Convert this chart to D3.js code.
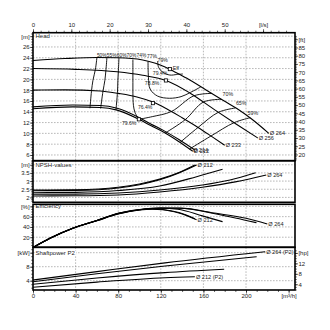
<!DOCTYPE html>
<html><head><meta charset="utf-8">
<script src="https://cdn.jsdelivr.net/npm/d3@7"></script>
<style>body{margin:0;background:#fff}svg text{font-family:"Liberation Sans",Arial,sans-serif;fill:#222}</style>
</head><body><svg id="c" width="330" height="330"></svg>
<script>
// ---------- data ----------
const flowTicks = [0, 40, 80, 120, 160, 200];
const lsTicks = [0, 10, 20, 30, 40, 50];
const headTicks = [6, 8, 10, 12, 14, 16, 18, 20, 22, 24, 26];
const ftTicks = [20, 25, 30, 35, 40, 45, 50, 55, 60, 65, 70, 75, 80, 85];
const npshTicks = [2, 2.5, 3, 3.5];
const effTicks = [20, 40, 60];
const kwTicks = [4, 8];
const hpTicks = [4, 8, 12];

const diameters = ["212", "214", "233", "256", "264"];

// Head curves [Q m3/h, H m]
const head212 = [[0,14.55],[37.5,14.9],[63,14.8],[79,14.3],[99.4,12.6],[111,11.4],[122,10.3],[136,8.6],[150,6.7]];
const head214 = [[0,14.9],[37.5,15.25],[63,15.15],[79,14.65],[99.4,12.95],[111,11.7],[122,10.6],[137,8.85],[152,6.9]];
const head233 = [[0,18.0],[30,18.05],[63,17.85],[80,17.4],[97.6,16.75],[112.6,15.8],[125,14.6],[140,12.9],[155,11.1],[168,9.4],[180,7.8]];
const head256 = [[0,22.0],[40,21.85],[79,21.4],[103,20.75],[125,19.8],[148,17.4],[171,14.3],[191,11.7],[211,9.15]];
const head264 = [[0,23.5],[30,23.85],[60,24.05],[80,24.0],[103,23.6],[115,23.0],[124,22.3],[132,21.5],[144.5,20.2],[164,17.85],[180,15.95],[191.4,14.6],[205,12.7],[221.4,10.0]];

// Best efficiency points [Q, H]
const bepQ = [99.4, 112.6, 124.8, 128.5];
const bepH = [12.6, 15.6, 19.8, 21.9];

// iso-efficiency lines [Q, H]
const iso50 = [[60.0,24.0],[58.6,21.87],[56.3,19.83],[54.9,17.8],[53.5,14.65]];
const iso55 = [[69.4,24.0],[68.5,21.78],[67.5,19.83],[65.7,17.8],[63.5,14.6]];
const iso60 = [[80.7,23.96],[80.2,21.7],[79.7,19.83],[79.3,17.6],[77.9,14.37]];
const iso74 = [[93.8,23.67],[93.8,21.5],[93.8,19.46],[93.8,17.43],[94.3,15.2],[95.7,13.9],[99.4,12.6]];
const iso74R = [[99.4,12.6],[112,13.1],[130,14.05],[151,16.95],[168,17.4]];
const iso77 = [[108,23.3],[108.4,20.4],[110,18.2],[117,16.9],[128,16.5],[139,16.8],[148,17.6],[157.5,18.6]];
const iso79 = [[117,23.4],[118,22.2],[122,21.3],[128.5,20.8],[135,20.9],[140.7,21.0]];
const iso70R = [[124,10.05],[143,12.55],[160,15.8],[177,16.3]];
const iso65R = [[138,8.3],[155,11.1],[174,13.9],[190,14.7]];
const iso59R = [[147,7.1],[167,9.5],[189,12.0],[204,12.9]];

const isoTopLabels = ["50%", "55%", "60%", "70%", "74%", "77%"];
const isoTopQ = [60, 69.3, 78.6, 87.9, 97.2, 107];
const isoRightLabels = ["70%", "65%", "59%"];
const isoRightQ = [178, 190.5, 201.5];
const isoRightH = [16.9, 15.2, 13.4];
const bepLabels = ["79%", "Eff", "79.4%", "78.8%", "76.4%", "79.6%"];
const bepLabelQ = [117, 131.3, 112.5, 105, 98.5, 83.5];
const bepLabelH = [23.3, 21.7, 20.75, 18.95, 14.55, 11.55];

// NPSH [Q, m]
const npsh212 = [[0,2.41],[40,2.43],[80,2.58],[100,2.78],[119,3.08],[137,3.5],[153.6,3.99]];
const npsh214 = [[0,2.45],[40,2.47],[80,2.62],[100,2.82],[119,3.12],[137,3.53],[152,3.99]];
const npsh233 = [[0,2.29],[40,2.31],[80,2.42],[119,2.70],[153.6,3.27],[178,3.72]];
const npsh256 = [[0,2.19],[40,2.2],[80,2.27],[119,2.45],[159,2.76],[185,3.07],[209,3.51]];
const npsh264 = [[0,2.09],[40,2.1],[80,2.15],[119,2.33],[159,2.62],[190,2.95],[219,3.37]];

// Efficiency [Q, %]
const eff212 = [[0,0],[16,18],[37.5,37.5],[60,52],[80,65],[100,73],[112,74.5],[122,73.5],[137,67],[153.6,54]];
const eff214 = [[0,0],[16,18.5],[37.5,38],[60,52.5],[80,65.5],[100,73.5],[112,75],[122,74],[137,68],[152,56]];
const eff233 = [[0,0],[16,18],[37.5,37.5],[60,52.5],[80,66],[100,73.5],[120,76.2],[136,74.3],[159,61.5],[178,50.2]];
const eff256 = [[0,0],[16,18],[37.5,37.5],[60,52.5],[80,66.5],[100,73.5],[120,76.5],[138,76.3],[172,65.2],[190,57.5],[209.8,48.2]];
const eff264 = [[0,0],[16,18],[37.5,37.5],[60,52.5],[80,66.5],[100,73.8],[120,76.7],[138,76.5],[172,66.5],[200,56.8],[220,45.7]];

// Shaft power [Q, kW]
const pow212 = [[0,2.11],[60,3.6],[124,4.86],[152,5.14]];
const pow233 = [[0,2.97],[60,4.75],[124,6.3],[179.5,7.26]];
const pow256 = [[0,3.71],[60,6.0],[124,8.2],[210,10.86]];
const pow264 = [[0,4.2],[60,6.6],[124,9.1],[218,12.3]];

// ---------- scales ----------
const L = 33, R = 295;
const x = d3.scaleLinear().domain([0, 246]).range([L, R]);
const xLs = d3.scaleLinear().domain([0, 246 / 3.6]).range([L, R]);
const yH = d3.scaleLinear().domain([4.94, 28.64]).range([160.7, 32.7]);
const yFt = d3.scaleLinear().domain([4.94 * 3.28084, 28.64 * 3.28084]).range([160.7, 32.7]);
const yN = d3.scaleLinear().domain([1.7, 4.25]).range([202.3, 160.7]);
const yE = d3.scaleLinear().domain([0, 84]).range([247.5, 204.3]);
const yP = d3.scaleLinear().domain([1.34, 13.63]).range([290, 247]);
const yHp = d3.scaleLinear().domain([1.34 / 0.7457, 13.63 / 0.7457]).range([290, 247]);

const svg = d3.select("#c");
const panels = [[32.7, 160.7], [160.7, 202.3], [204.3, 247.3], [247.3, 290]];

// ---------- grid ----------
const grid = svg.append("g").attr("stroke", "#8a8a8a").attr("stroke-width", 0.6).attr("stroke-dasharray", "1.6,1.4");
function hgrid(scale, vals) {
  grid.selectAll(null).data(vals).join("line")
    .attr("x1", L).attr("x2", R).attr("y1", d => scale(d)).attr("y2", d => scale(d));
}
hgrid(yH, headTicks.concat([28]));
hgrid(yN, npshTicks.concat([4]));
hgrid(yE, effTicks.concat([80]));
hgrid(yP, kwTicks.concat([12]));
panels.forEach(p => {
  grid.selectAll(null).data(flowTicks.slice(1)).join("line")
    .attr("x1", d => x(d)).attr("x2", d => x(d)).attr("y1", p[0]).attr("y2", p[1]);
});

// ---------- axes ----------
const fs = 6;
function axisG(ax, tx, ty) {
  const a = svg.append("g").attr("transform", `translate(${tx},${ty})`).call(ax);
  a.select(".domain").remove();
  a.selectAll("line").attr("stroke", "#000").attr("stroke-width", 0.6);
  a.selectAll("text").attr("font-size", fs).style("fill", "#222");
  return a;
}
function leftAxis(scale, major, unitVal, unit, minor) {
  axisG(d3.axisLeft(scale).tickValues(minor).tickSize(1.8).tickFormat(""), L, 0);
  axisG(d3.axisLeft(scale).tickValues(major.concat([unitVal])).tickSize(3).tickPadding(0.4)
    .tickFormat(d => d === unitVal ? unit : d), L, 0);
}
function rightAxis(scale, major, unitVal, unit, minor) {
  axisG(d3.axisRight(scale).tickValues(minor).tickSize(1.8).tickFormat(""), R, 0);
  axisG(d3.axisRight(scale).tickValues(major.concat([unitVal])).tickSize(3).tickPadding(0.4)
    .tickFormat(d => d === unitVal ? unit : d), R, 0);
}
leftAxis(yH, headTicks, 28, "[m]", d3.range(5, 28.6, 0.5));
rightAxis(yFt, ftTicks, 90, "[ft]", d3.range(17, 93, 1));
leftAxis(yN, npshTicks, 4, "[m]", d3.range(1.8, 4.21, 0.1));
leftAxis(yE, effTicks, 80, "[%]", d3.range(5, 84, 5));
leftAxis(yP, kwTicks, 12, "[kW]", d3.range(2, 13.6, 1));
rightAxis(yHp, hpTicks, 16, "[hp]", d3.range(2, 18, 1));
axisG(d3.axisTop(xLs).tickValues(d3.range(0, 68, 2)).tickSize(2).tickFormat(""), 0, 32.7);
axisG(d3.axisTop(xLs).tickValues(lsTicks.concat([60])).tickSize(3.5).tickPadding(2.5)
  .tickFormat(d => d === 60 ? "[l/s]" : d), 0, 32.7);
axisG(d3.axisBottom(x).tickValues(d3.range(0, 246, 10)).tickSize(2).tickFormat(""), 0, 290);
axisG(d3.axisBottom(x).tickValues(flowTicks.concat([240])).tickSize(3.5).tickPadding(0.6)
  .tickFormat(d => d === 240 ? "[m³/h]" : d), 0, 290);

// panel titles (white backing)
const titleBg = svg.append("g");
const titleG = svg.append("g");
const titles = [["Head", yH(28)], ["NPSH-values", yN(4)], ["Efficiency", yE(80)], ["Shaftpower P2", yP(12)]];
titles.forEach(t => {
  const tx = titleG.append("text").attr("x", L + 2.5).attr("y", t[1]).attr("dy", "0.35em")
    .attr("font-size", fs).text(t[0]);
  const bb = tx.node().getBBox();
  titleBg.append("rect").attr("x", bb.x - 0.5).attr("y", bb.y + 1).attr("width", bb.width + 1)
    .attr("height", bb.height - 2).attr("fill", "#fff");
});

// ---------- curves ----------
const curves = svg.append("g").attr("fill", "none").attr("stroke", "#000");
function drawSeries(ys, data, w, curve) {
  const ln = d3.line().x(d => x(d[0])).y(d => ys(d[1])).curve(curve || d3.curveMonotoneX);
  curves.append("path").attr("d", ln(data)).attr("stroke-width", w);
}
[head212, head214, head233, head256, head264].forEach(c => drawSeries(yH, c, 1.1));
[npsh212, npsh214, npsh233, npsh256, npsh264].forEach(c => drawSeries(yN, c, 1.1));
[eff212, eff214, eff233, eff256, eff264].forEach(c => drawSeries(yE, c, 1.1));
[pow212, pow233, pow256, pow264].forEach(c => drawSeries(yP, c, 1.1));
[iso50, iso55, iso60, iso74, iso74R, iso77, iso79, iso70R, iso65R, iso59R]
  .forEach(c => drawSeries(yH, c, 0.9, d3.curveCatmullRom));

svg.selectAll(null).data(bepQ).join("rect")
  .attr("x", (d, i) => x(d) - 1.6).attr("y", (d, i) => yH(bepH[i]) - 1.6)
  .attr("width", 3.2).attr("height", 3.2).attr("fill", "#fff").attr("stroke", "#000").attr("stroke-width", 0.8);

const border = svg.append("g").attr("fill", "none").attr("stroke", "#000").attr("stroke-width", 1.6);
panels.forEach(p => border.append("rect").attr("x", L).attr("y", p[0]).attr("width", R - L).attr("height", p[1] - p[0]));

// ---------- labels ----------
const lab = svg.append("g").attr("font-size", 5.6);
function endLabel(ys, data, txt, dx, dy) {
  const e = data[data.length - 1];
  lab.append("text").attr("x", x(e[0]) + (dx || 1)).attr("y", ys(e[1]) + (dy || 0)).attr("dy", "0.35em").text(txt);
}
endLabel(yH, head264, "Ø 264"); endLabel(yH, head256, "Ø 256"); endLabel(yH, head233, "Ø 233");
endLabel(yH, head212, "Ø 212"); endLabel(yH, head214, "Ø 214", -2, 0);
endLabel(yN, npsh212, "Ø 212"); endLabel(yN, npsh264, "Ø 264");
endLabel(yE, eff212, "Ø 212"); endLabel(yE, eff264, "Ø 264");
endLabel(yP, pow264, "Ø 264 (P2)"); endLabel(yP, pow212, "Ø 212 (P2)");

lab.selectAll(null).data(isoTopLabels).join("text")
  .attr("x", (d, i) => x(isoTopQ[i])).attr("y", (d, i) => yH(24.2) + (i === 5 ? 1.3 : 0)).attr("font-size", 4.9).text(d => d);
lab.selectAll(null).data(isoRightLabels).join("text")
  .attr("x", (d, i) => x(isoRightQ[i])).attr("y", (d, i) => yH(isoRightH[i])).attr("font-size", 5.3).text(d => d);
lab.selectAll(null).data(bepLabels).join("text")
  .attr("x", (d, i) => x(bepLabelQ[i])).attr("y", (d, i) => yH(bepLabelH[i])).attr("font-size", 5.1).text(d => d);
</script></body></html>
